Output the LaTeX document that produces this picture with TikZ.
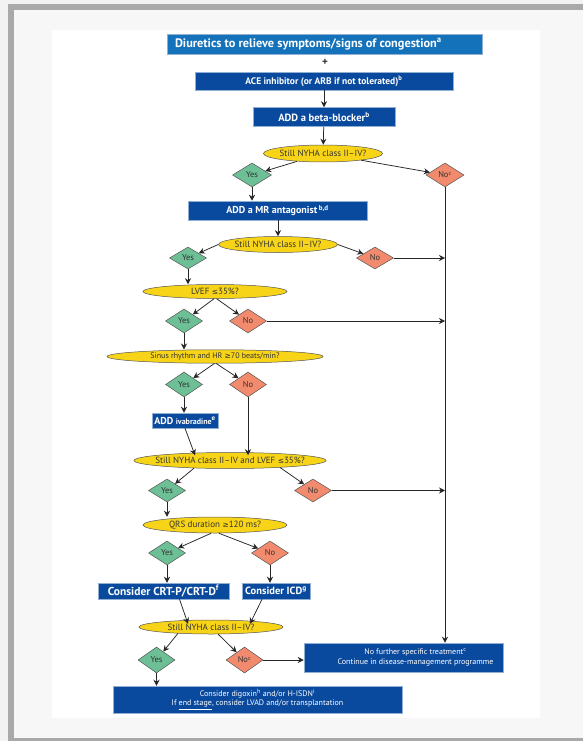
\documentclass[tikz,border=0pt]{standalone}
\usepackage{fontspec}
\setmainfont{PT Sans}
\newfontfamily\symf{DejaVu Sans}
\usetikzlibrary{shapes.geometric,arrows.meta}
\definecolor{topblue}{HTML}{1472BA}
\definecolor{dblue}{HTML}{0A4A9E}
\definecolor{hfyellow}{HTML}{F7D418}
\definecolor{hfgreen}{HTML}{6DC095}
\definecolor{hfsalmon}{HTML}{F28B6E}
\definecolor{outl}{HTML}{555555}
\definecolor{framegray}{HTML}{A9A9A9}
\newcommand{\ctext}[1]{\makebox[0pt]{#1}}
\newcommand{\lesym}{{\symf\fontsize{7.5}{9}\selectfont ≤}}
\newcommand{\gesym}{{\symf\fontsize{7.5}{9}\selectfont ≥}}
\begin{document}
\begin{tikzpicture}[x=1pt,y=-1pt,
  bx/.style={rectangle, fill=dblue, draw=dblue!45, line width=0.5pt, text=white,
    font=\bfseries\fontsize{10}{11}\selectfont, inner sep=0pt, align=center},
  ell/.style={ellipse, fill=hfyellow, draw=outl, line width=0.5pt, inner sep=0pt,
    text=black!80, font=\fontsize{9}{10}\selectfont},
  yes/.style={diamond, fill=hfgreen, draw=outl, line width=0.5pt, inner sep=0pt,
    minimum width=37pt, minimum height=24pt, text=black!80, font=\fontsize{8.5}{10}\selectfont},
  no/.style={diamond, fill=hfsalmon, draw=outl, line width=0.5pt, inner sep=0pt,
    minimum width=37pt, minimum height=24pt, text=black!80, font=\fontsize{8.5}{10}\selectfont},
  arr/.style={-{Stealth[length=6pt,width=6pt]}, line width=0.75pt, draw=black!85}]
\useasboundingbox (0,0) rectangle (583,741);
% background and frame
\fill[black!5] (0,0) rectangle (583,741);
\fill[framegray] (8,4) rectangle (590,741);
\fill[black!3] (14,10) rectangle (590,738);
\fill[white] (52,30) rectangle (540,718);

% top part
\node[bx, fill=topblue, minimum width=315pt, minimum height=20pt,
  font=\bfseries\fontsize{12.3}{13}\selectfont] (d1) at (324.5,44)
  {\makebox[299pt][l]{Diuretics to relieve symptoms/signs of congestion\textsuperscript{a}}};
\node[font=\bfseries\fontsize{11}{12}\selectfont, text=black!80, inner sep=0pt] (plus) at (325,62) {+};
\node[bx, minimum width=258pt, minimum height=18pt, font=\bfseries\fontsize{9.5}{11}\selectfont] (ace) at (324,81)
  {ACE inhibitor (or ARB if not tolerated)\textsuperscript{b}};
\node[bx, minimum width=142pt, minimum height=19pt, font=\bfseries\fontsize{10.5}{11}\selectfont] (beta) at (324,117)
  {ADD a beta-blocker\textsuperscript{b}};
\node[ell, minimum width=119pt, minimum height=17pt] (e1) at (323,153.5)
  {\ctext{Still NYHA class II–IV?}};
\node[yes, minimum width=39pt] (y1) at (252,175) {Yes};
\node[no, minimum width=38pt] (n1) at (445,175) {No\textsuperscript{c}};
\node[bx, minimum width=179pt, minimum height=19pt] (mr) at (277.5,210.5)
  {ADD a MR antagonist\,\textsuperscript{b,d}};
\node[ell, minimum width=119pt, minimum height=16pt] (e2) at (278,244.5)
  {\ctext{Still NYHA class II–IV?}};
\node[yes, minimum height=22pt] (y2) at (188,258) {Yes};
\node[no, minimum height=22pt] (n2) at (375,258) {No};
\node[ell, minimum width=144pt, minimum height=14pt] (e3) at (215,291.5)
  {\ctext{LVEF \lesym35\%?}};
\node[yes] (y3) at (184,321) {Yes};
\node[no] (n3) at (248,321) {No};
\node[ell, minimum width=216pt, minimum height=13.5pt, font=\fontsize{8}{9}\selectfont] (e4) at (215,356.5)
  {\ctext{Sinus rhythm and HR \gesym70 beats/min?}};
\node[yes, minimum height=25pt] (y4) at (184,384.5) {Yes};
\node[no, minimum height=25pt] (n4) at (248,384.5) {No};
\node[bx, minimum width=66pt, minimum height=15pt] (iva) at (185,420.5)
  {ADD {\fontsize{8}{9}\selectfont ivabradine}\textsuperscript{e}};
\node[ell, minimum width=192pt, minimum height=16pt] (e5) at (230,460.5)
  {\ctext{Still NYHA class II–IV and LVEF \lesym35\%?}};
\node[yes, minimum height=23pt] (y5) at (167,490.5) {Yes};
\node[no, minimum height=23pt] (n5) at (313,490.5) {No};
\node[ell, minimum width=144pt, minimum height=16pt] (e6) at (215,525)
  {\ctext{QRS duration \gesym120 ms?}};
\node[yes] (y6) at (167,553) {Yes};
\node[no] (n6) at (270,553) {No};
\node[bx, minimum width=131pt, minimum height=16pt, font=\bfseries\fontsize{11.5}{12}\selectfont] (crt) at (163.5,591)
  {Consider CRT-P/CRT-D\textsuperscript{f}};
\node[bx, minimum width=68pt, minimum height=16pt, font=\bfseries\fontsize{10.5}{12}\selectfont] (icd) at (276,591)
  {Consider ICD\textsuperscript{g}};
\node[ell, minimum width=144pt, minimum height=14pt] (e7) at (211,627)
  {\ctext{Still NYHA class II–IV?}};
\node[yes, minimum height=26pt] (y7) at (156.5,660) {Yes};
\node[no, minimum height=26pt] (n7) at (244.5,660) {No\textsuperscript{c}};
\node[bx, minimum width=199pt, minimum height=29pt, font=\fontsize{8}{10.5}\selectfont] (nf) at (403.5,657.5)
  {\hspace*{24pt}No further specific treatment\textsuperscript{c}\\\hspace*{24pt}Continue in disease-management programme};
\node[bx, minimum width=289pt, minimum height=27pt, font=\fontsize{8}{9.5}\selectfont] (bot) at (257.5,699.5)
  {Consider digoxin\textsuperscript{h} and/or H-ISDN\textsuperscript{i}\\If \underline{end stage}, consider LVAD and/or transplantation};

% connectors
\draw[arr] (ace) -- (beta);
\draw[arr] (beta) -- (e1);
\draw[arr] (e1) -- (y1);
\draw[arr] (e1) -- (n1);
\draw[arr] (y1) -- (y1 |- mr.north);
\draw[arr] (mr.south -| e2) -- (e2);
\draw[arr] (e2.west) -- (y2);
\draw[arr] (e2.east) -- (n2);
\draw[arr] (y2.south) -- (y2.south |- e3.north);
\draw[arr] (e3.262) -- (y3);
\draw[arr] (e3.283) -- (n3);
\draw[arr] (y3.south) -- (y3.south |- e4.north);
\draw[arr] (e4.265) -- (y4);
\draw[arr] (e4.280) -- (n4);
\draw[arr] (y4.south) -- (y4.south |- iva.north);
\draw[arr] (iva.south) -- ([xshift=-35pt,yshift=-3pt]e5.north);
\draw[arr] (n4.south) -- ([yshift=-3pt]n4.south |- e5.north);
\draw[arr] (e5.192) -- (y5);
\draw[arr] (e5.352) -- (n5);
\draw[arr] (y5.south) -- (y5.south |- e6.north);
\draw[arr] (e6.245) -- (y6);
\draw[arr] (e6.295) -- (n6);
\draw[arr] (y6.south) -- (y6.south |- crt.north);
\draw[arr] (n6.south) -- (n6.south |- icd.north);
\draw[arr] ([xshift=16pt]crt.south) -- ([xshift=-23pt,yshift=-4pt]e7.north);
\draw[arr] ([xshift=-14pt]icd.south) -- ([xshift=39pt,yshift=-4pt]e7.north);
\draw[arr] (e7.191) -- (y7);
\draw[arr] (e7.315) -- (n7);
\draw[arr] (y7.south) -- (y7.south |- bot.north);
\draw[arr] (n7.east) -- (n7.east -| nf.west);
\draw[arr] (n1.south) -- (n1.south |- nf.north);
\draw[arr] (n2.east) -- (n2.east -| n1.south);
\draw[arr] (n3.east) -- (n3.east -| n1.south);
\draw[arr] (n5.east) -- (n5.east -| n1.south);
\end{tikzpicture}
\end{document}
